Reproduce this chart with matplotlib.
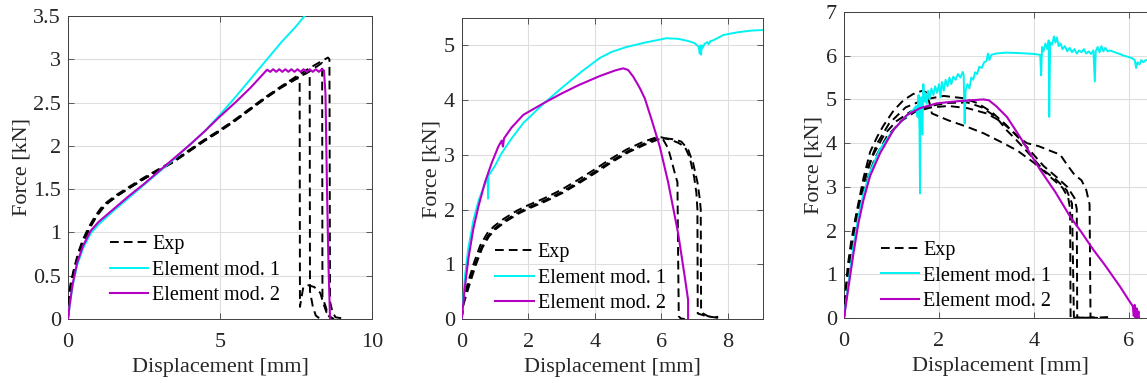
import matplotlib
matplotlib.use("Agg")
import matplotlib.pyplot as plt

plt.rcParams['font.family'] = ['Liberation Serif', 'DejaVu Serif']
plt.rcParams['mathtext.fontset'] = 'stix'

W, H = 1147, 383

# ---------------- data: panel 1 ----------------
p1_mod1_x = [0, 0.05, 0.15, 0.3, 0.5, 0.75, 1.0, 1.5, 2.0, 2.5, 3.0, 3.5, 4.0, 4.5, 5.0, 5.5, 6.0, 6.5, 7.0, 7.5, 7.9]
p1_mod1_y = [0, 0.14, 0.38, 0.62, 0.82, 0.99, 1.09, 1.25, 1.40, 1.55, 1.70, 1.85, 2.01, 2.17, 2.36, 2.56, 2.77, 2.98, 3.19, 3.38, 3.55]

p1_mod2_x = [0, 0.05, 0.15, 0.3, 0.5, 0.75, 1.0, 1.5, 2.0, 2.5, 3.0, 3.5, 4.0, 4.5, 5.0, 5.5, 6.0, 6.55,
             6.65, 6.75, 6.85, 6.95, 7.05, 7.15, 7.25, 7.35, 7.45, 7.55, 7.65, 7.75, 7.85, 7.95, 8.05, 8.15, 8.25, 8.35,
             8.42, 8.47, 8.52, 8.57, 8.62]
p1_mod2_y = [0, 0.15, 0.40, 0.65, 0.85, 1.02, 1.12, 1.27, 1.42, 1.56, 1.71, 1.86, 2.01, 2.17, 2.34, 2.50, 2.67, 2.88,
             2.855, 2.885, 2.855, 2.885, 2.855, 2.885, 2.855, 2.885, 2.855, 2.885, 2.855, 2.885, 2.855, 2.885, 2.855, 2.885, 2.855, 2.885,
             2.87, 2.6, 1.5, 0.6, 0.0]

p1_exp1_x = [0, 0.03, 0.1, 0.2, 0.35, 0.5, 0.7, 0.9, 1.1, 1.3, 1.6, 2.0, 2.5, 3.0, 3.5, 4.0, 4.5, 5.0, 5.5, 6.0, 6.5, 7.0, 7.3, 7.55, 7.62,
             7.63, 7.74, 7.9, 8.1, 8.3, 8.4, 8.5, 8.65, 8.75]
p1_exp1_y = [0, 0.22, 0.40, 0.56, 0.75, 0.90, 1.05, 1.17, 1.27, 1.34, 1.42, 1.51, 1.62, 1.72, 1.82, 1.94, 2.06, 2.17, 2.29, 2.42, 2.55, 2.67, 2.73, 2.78, 2.77,
             0.14, 0.37, 0.39, 0.37, 0.30, 0.18, 0.08, 0.02, 0.0]

p1_exp2_x = [0, 0.02, 0.08, 0.18, 0.3, 0.45, 0.65, 0.85, 1.05, 1.25, 1.55, 1.95, 2.45, 2.95, 3.45, 3.95, 4.45, 4.95, 5.45, 5.95, 6.45, 6.95, 7.3, 7.6, 7.8, 7.95,
             7.96, 8.05, 8.15, 8.3, 8.38]
p1_exp2_y = [0, 0.18, 0.36, 0.54, 0.70, 0.86, 1.02, 1.15, 1.25, 1.33, 1.41, 1.50, 1.61, 1.71, 1.81, 1.93, 2.05, 2.16, 2.28, 2.41, 2.54, 2.66, 2.74, 2.80, 2.83, 2.86,
             0.32, 0.15, 0.04, 0.0, 0.02]

p1_exp3_x = [0, 0.04, 0.12, 0.22, 0.38, 0.55, 0.75, 0.95, 1.15, 1.35, 1.65, 2.05, 2.55, 3.05, 3.55, 4.05, 4.55, 5.05, 5.55, 6.05, 6.55, 7.05, 7.5, 7.9, 8.2, 8.36,
             8.37, 8.47, 8.55, 8.65]
p1_exp3_y = [0, 0.20, 0.39, 0.55, 0.74, 0.92, 1.07, 1.19, 1.28, 1.35, 1.43, 1.52, 1.63, 1.73, 1.84, 1.96, 2.08, 2.19, 2.31, 2.44, 2.57, 2.69, 2.78, 2.86, 2.92, 2.96,
             0.25, 0.15, 0.05, 0.0]

p1_exp4_x = [0, 0.02, 0.09, 0.19, 0.33, 0.48, 0.68, 0.88, 1.08, 1.28, 1.58, 1.98, 2.48, 2.98, 3.48, 3.98, 4.48, 4.98, 5.48, 5.98, 6.48, 6.98, 7.5, 8.0, 8.3, 8.55, 8.6,
             8.62, 8.7, 8.8, 9.15]
p1_exp4_y = [0, 0.24, 0.42, 0.57, 0.76, 0.91, 1.06, 1.18, 1.28, 1.35, 1.43, 1.52, 1.63, 1.73, 1.83, 1.95, 2.07, 2.18, 2.30, 2.43, 2.56, 2.68, 2.80, 2.91, 2.97, 3.02, 3.00,
             0.20, 0.08, 0.02, 0.0]

# ---------------- data: panel 2 ----------------
p2_mod1_x = [0, 0.1, 0.2, 0.35, 0.5, 0.65, 0.78, 0.79, 0.81, 1.0, 1.2, 1.5, 1.85, 2.45, 3.0, 3.6, 4.15, 4.5, 4.95, 5.5, 6.15, 6.5,
             6.8, 7.0, 7.12, 7.15, 7.17, 7.19, 7.21, 7.23, 7.3, 7.38, 7.42, 7.47, 7.55, 7.86, 8.3, 8.7, 9.05]
p2_mod1_y = [0, 0.8, 1.3, 1.8, 2.15, 2.4, 2.58, 2.2, 2.62, 2.8, 3.03, 3.3, 3.58, 3.93, 4.22, 4.52, 4.77, 4.88, 4.97, 5.05, 5.13, 5.12,
             5.08, 5.04, 4.97, 4.85, 5.0, 4.83, 5.0, 4.95, 5.03, 5.06, 5.02, 5.08, 5.09, 5.19, 5.24, 5.27, 5.28]

p2_mod2_x = [0, 0.1, 0.2, 0.35, 0.5, 0.7, 0.9, 1.1, 1.2, 1.24, 1.27, 1.5, 1.85, 2.45, 3.0, 3.5, 4.15, 4.6, 4.85, 5.0, 5.15, 5.35,
             5.5, 5.7, 5.95, 6.2, 6.5, 6.7, 6.8, 6.8]
p2_mod2_y = [0, 0.6, 1.1, 1.65, 2.05, 2.5, 2.85, 3.15, 3.26, 3.15, 3.3, 3.5, 3.73, 3.94, 4.12, 4.27, 4.44, 4.54, 4.58, 4.55, 4.43, 4.22,
             4.03, 3.65, 3.15, 2.5, 1.57, 0.77, 0.35, 0.0]

p2_exp1_x = [0, 0.05, 0.2, 0.4, 0.6, 0.8, 1.0, 1.3, 1.7, 2.0, 2.5, 3.0, 3.5, 4.0, 4.5, 5.0, 5.5, 5.85, 6.05, 6.2, 6.3, 6.42, 6.48,
             6.5, 6.52, 6.58, 6.7]
p2_exp1_y = [0, 0.3, 0.62, 1.0, 1.32, 1.53, 1.66, 1.8, 1.95, 2.04, 2.17, 2.32, 2.5, 2.69, 2.89, 3.07, 3.21, 3.3, 3.28, 3.12, 2.9, 2.62, 2.5,
             1.2, 0.05, 0.01, 0.0]

p2_exp2_x = [0, 0.04, 0.18, 0.37, 0.56, 0.76, 0.96, 1.26, 1.66, 1.96, 2.46, 2.96, 3.46, 3.96, 4.46, 4.96, 5.46, 5.8, 6.0, 6.3, 6.5,
             6.7, 6.85, 6.98, 7.05, 7.08, 7.09, 7.2, 7.35, 7.6, 7.78]
p2_exp2_y = [0, 0.32, 0.65, 1.03, 1.35, 1.56, 1.69, 1.83, 1.98, 2.07, 2.2, 2.35, 2.53, 2.72, 2.92, 3.1, 3.24, 3.31, 3.32, 3.27, 3.22,
             3.15, 2.95, 2.6, 2.3, 2.0, 0.1, 0.08, 0.05, 0.03, 0.05]

p2_exp3_x = [0, 0.06, 0.22, 0.42, 0.62, 0.82, 1.02, 1.32, 1.72, 2.02, 2.52, 3.02, 3.52, 4.02, 4.52, 5.02, 5.52, 5.9, 6.15, 6.4, 6.6,
             6.8, 6.95, 7.08, 7.15, 7.18, 7.19, 7.25, 7.4, 7.7]
p2_exp3_y = [0, 0.28, 0.6, 0.98, 1.3, 1.51, 1.64, 1.78, 1.93, 2.02, 2.15, 2.3, 2.48, 2.67, 2.87, 3.05, 3.19, 3.28, 3.3, 3.28, 3.24,
             3.1, 2.85, 2.5, 2.2, 2.0, 0.15, 0.1, 0.05, 0.02]

# ---------------- data: panel 3 ----------------
p3_mod1_x = [0, 0.1, 0.2, 0.3, 0.4, 0.55, 0.75, 1.0, 1.25, 1.45,
             1.52, 1.55, 1.57, 1.59, 1.6, 1.61, 1.63, 1.65, 1.67, 1.69, 1.71, 1.74, 1.77, 1.8, 1.84, 1.88, 1.92, 1.96,
             2.0, 2.03, 2.06, 2.1, 2.14, 2.18, 2.22, 2.26, 2.3, 2.35, 2.4, 2.45, 2.5, 2.52, 2.54, 2.56, 2.6, 2.64,
             2.68, 2.72, 2.76, 2.8, 2.85, 2.9, 2.95, 3.0, 3.03, 3.06, 3.1, 3.2, 3.4, 3.7, 4.0, 4.13, 4.15, 4.17,
             4.2, 4.24, 4.28, 4.31, 4.32, 4.34, 4.38, 4.42, 4.45, 4.48, 4.52, 4.56, 4.6, 4.65, 4.7, 4.75, 4.8,
             4.85, 4.9, 4.95, 5.0, 5.05, 5.1, 5.15, 5.2, 5.25, 5.28, 5.3, 5.34, 5.38, 5.42, 5.46, 5.5, 5.55, 5.6,
             5.75, 5.9, 6.05, 6.12, 6.15, 6.18, 6.22, 6.26, 6.3, 6.35, 6.45]
p3_mod1_y = [0, 0.85, 1.65, 2.3, 2.8, 3.35, 3.85, 4.25, 4.55, 4.75,
             4.85, 4.6, 5.1, 4.3, 2.85, 4.9, 5.05, 4.2, 5.35, 4.95, 5.15, 4.9, 5.2, 5.0, 5.25, 5.1, 5.3, 5.15,
             5.35, 5.05, 5.4, 5.2, 5.45, 5.3, 5.5, 5.35, 5.52, 5.45, 5.58, 5.5, 5.63, 5.55, 4.45, 5.2, 5.35, 5.25,
             5.5, 5.45, 5.62, 5.58, 5.75, 5.72, 5.85, 5.88, 6.05, 5.9, 6.02, 6.05, 6.07, 6.06, 6.04, 6.02, 5.55, 6.2,
             6.1, 6.28, 6.15, 6.35, 4.6, 6.3, 6.25, 6.44, 6.3, 6.42, 6.22, 6.28, 6.15, 6.22, 6.1, 6.18, 6.08,
             6.15, 6.05, 6.12, 6.08, 6.15, 6.05, 6.1, 6.04, 6.12, 5.41, 6.1, 6.2, 6.08, 6.22, 6.1, 6.18, 6.1, 6.12,
             6.06, 6.0, 5.95, 5.9, 5.72, 5.85, 5.8, 5.9, 5.85, 5.9, 5.88]

p3_mod2_x = [0, 0.1, 0.2, 0.3, 0.41, 0.55, 0.76, 1.04, 1.32, 1.6, 1.95, 2.4, 2.93, 3.05, 3.2, 3.43, 3.7, 4.13, 4.45, 4.76,
             5.0, 5.25, 5.5, 5.81, 6.0, 6.08, 6.1, 6.12, 6.14, 6.16, 6.18, 6.2, 6.21]
p3_mod2_y = [0, 0.75, 1.48, 2.15, 2.7, 3.25, 3.77, 4.3, 4.64, 4.8, 4.91, 4.96, 5.0, 4.98, 4.85, 4.6, 4.15, 3.39, 2.88, 2.32,
             1.96, 1.56, 1.2, 0.72, 0.4, 0.27, 0.05, 0.3, 0.0, 0.22, 0.02, 0.15, 0.0]

p3_exp1_x = [0, 0.03, 0.08, 0.15, 0.27, 0.41, 0.55, 0.7, 0.83, 1.04, 1.25, 1.45, 1.65, 1.75, 1.85, 2.2, 2.6, 2.95, 3.3, 3.65,
             4.0, 4.35, 4.6, 4.72, 4.76, 4.77, 4.85, 5.1, 5.4]
p3_exp1_y = [0, 0.6, 1.2, 1.75, 2.45, 3.2, 3.8, 4.15, 4.4, 4.74, 4.98, 5.12, 5.2, 5.15, 4.68, 4.52, 4.37, 4.22, 4.03, 3.83,
             3.55, 3.22, 2.98, 2.75, 2.5, 0.02, 0.0, 0.01, 0.0]

p3_exp2_x = [0, 0.03, 0.1, 0.2, 0.35, 0.5, 0.7, 0.95, 1.3, 1.7, 2.1, 2.5, 2.8, 3.1, 3.4, 3.65, 3.85, 4.1, 4.4, 4.55, 4.7,
             4.85, 5.0, 5.1, 5.17, 5.19, 5.3, 5.56]
p3_exp2_y = [0, 0.5, 1.1, 1.8, 2.75, 3.45, 4.0, 4.45, 4.82, 5.0, 5.08, 5.03, 4.92, 4.72, 4.43, 4.15, 4.0, 3.93, 3.8, 3.74, 3.5,
             3.28, 3.15, 2.93, 2.6, 0.02, 0.01, 0.02]

p3_exp3_x = [0, 0.04, 0.12, 0.25, 0.4, 0.6, 0.85, 1.1, 1.4, 1.8, 2.2, 2.6, 2.9, 3.2, 3.42, 3.63, 3.92, 4.2, 4.48, 4.69, 4.8,
             4.84, 4.9, 5.2]
p3_exp3_y = [0, 0.45, 1.3, 2.3, 3.05, 3.7, 4.2, 4.5, 4.72, 4.85, 4.92, 4.93, 4.82, 4.6, 4.3, 4.07, 3.73, 3.38, 3.15, 2.92, 2.62,
             0.02, 0.0, 0.01]

p3_exp4_x = [0, 0.05, 0.15, 0.3, 0.45, 0.65, 0.9, 1.2, 1.5, 1.85, 2.2, 2.6, 3.0, 3.3, 3.6, 3.9, 4.2, 4.5, 4.7, 4.85, 4.9,
             4.91, 5.0]
p3_exp4_y = [0, 0.5, 1.4, 2.35, 3.05, 3.65, 4.15, 4.5, 4.72, 4.82, 4.85, 4.8, 4.68, 4.5, 4.22, 3.85, 3.48, 3.2, 3.0, 2.75, 2.5,
             0.02, 0.0]

legend_labels = ['Exp', 'Element mod. 1', 'Element mod. 2']

CYAN = '#00F2F2'
MAGENTA = '#B400C4'
TXT = '#262626'
DASH = (0, (4.5, 2.6))


def make_axes(left, top, right, bottom):
    return fig.add_axes([left / W, (H - bottom) / H, (right - left) / W, (bottom - top) / H])


def style(ax, xlim, ylim, xticks, yticks, ytl):
    ax.set_xlim(*xlim)
    ax.set_ylim(*ylim)
    ax.set_xticks(xticks)
    ax.set_yticks(yticks)
    ax.set_yticklabels(ytl)
    ax.grid(True, color='#dedede', lw=0.8)
    ax.set_axisbelow(True)
    ax.tick_params(direction='in', length=4, width=0.6, colors='#404040', labelcolor=TXT,
                   labelsize=16, top=True, right=True)
    ax.tick_params(axis='x', pad=10)
    ax.tick_params(axis='y', pad=5)
    for s in ax.spines.values():
        s.set_color('#404040')
        s.set_linewidth(0.7)
    ax.set_xlabel('Displacement [mm]', fontsize=16, color=TXT, labelpad=4.5)
    ax.set_ylabel('Force [kN]', fontsize=16, color=TXT, labelpad=1.5)


def draw(ax, exps, mod1, mod2, anchor):
    h_exp = None
    for ex, ey in exps:
        ln, = ax.plot(ex, ey, color='black', lw=1.4, linestyle=DASH, zorder=3)
        if h_exp is None:
            h_exp = ln
    h1, = ax.plot(mod1[0], mod1[1], color=CYAN, lw=1.4, zorder=4)
    h2, = ax.plot(mod2[0], mod2[1], color=MAGENTA, lw=1.5, zorder=5)
    ax.legend([h_exp, h1, h2], legend_labels, loc='upper left', bbox_to_anchor=anchor,
              frameon=False, fontsize=14.5, handlelength=1.9, handletextpad=0.2,
              labelspacing=0.32, borderpad=0, borderaxespad=0)


fig = plt.figure(figsize=(W / 100, H / 100), dpi=100)

ax1 = make_axes(68, 16, 372, 319)
style(ax1, (0, 10), (0, 3.5), [0, 5, 10], [0, 0.5, 1, 1.5, 2, 2.5, 3, 3.5],
      ['0', '0.5', '1', '1.5', '2', '2.5', '3', '3.5'])
draw(ax1,
     [(p1_exp1_x, p1_exp1_y), (p1_exp2_x, p1_exp2_y), (p1_exp3_x, p1_exp3_y), (p1_exp4_x, p1_exp4_y)],
     (p1_mod1_x, p1_mod1_y), (p1_mod2_x, p1_mod2_y), (0.137, 0.277))

ax2 = make_axes(461.7, 18, 763, 319)
style(ax2, (0, 9.05), (0, 5.5), [0, 2, 4, 6, 8], [0, 1, 2, 3, 4, 5],
      ['0', '1', '2', '3', '4', '5'])
draw(ax2,
     [(p2_exp1_x, p2_exp1_y), (p2_exp2_x, p2_exp2_y), (p2_exp3_x, p2_exp3_y)],
     (p2_mod1_x, p2_mod1_y), (p2_mod2_x, p2_mod2_y), (0.112, 0.252))

ax3 = make_axes(844, 12, 844 + 6.6 * 47.5, 318)
style(ax3, (0, 6.6), (0, 7), [0, 2, 4, 6], [0, 1, 2, 3, 4, 5, 6, 7],
      ['0', '1', '2', '3', '4', '5', '6', '7'])
draw(ax3,
     [(p3_exp1_x, p3_exp1_y), (p3_exp2_x, p3_exp2_y), (p3_exp3_x, p3_exp3_y), (p3_exp4_x, p3_exp4_y)],
     (p3_mod1_x, p3_mod1_y), (p3_mod2_x, p3_mod2_y), (0.117, 0.252))

fig.savefig('out.png', dpi=100)
